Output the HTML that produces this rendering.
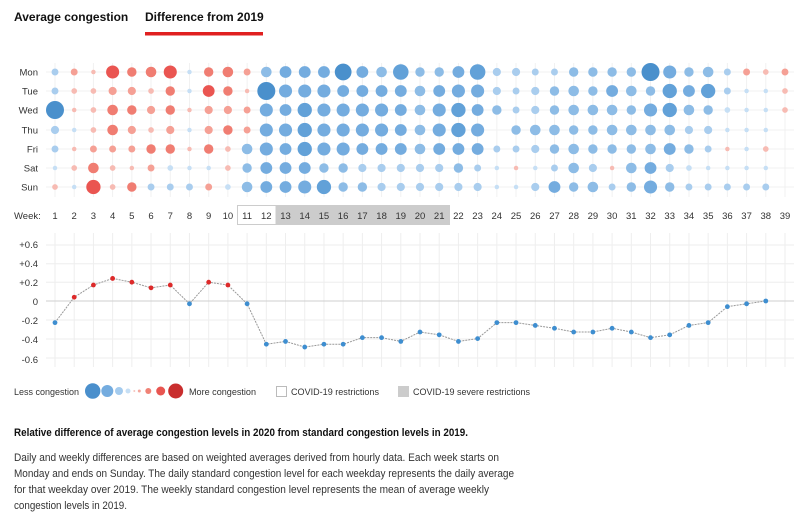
<!DOCTYPE html>
<html><head><meta charset="utf-8"><style>
html,body{margin:0;padding:0;background:#fff;}
svg{display:block;font-family:"Liberation Sans",sans-serif;}
</style></head><body>
<svg id="s" width="809" height="521" viewBox="0 0 809 521" xmlns="http://www.w3.org/2000/svg">
<rect width="809" height="521" fill="#fff"/>
<text x="14" y="21" font-size="12" font-weight="bold" fill="#111">Average congestion</text>
<text x="145" y="21" font-size="12" font-weight="bold" fill="#111">Difference from 2019</text>
<rect x="145" y="32" width="118" height="3.5" fill="#e02020"/>
<g id="grid1" stroke="#f1f1f1" stroke-width="1"></g>
<g font-size="9.5" fill="#333" text-anchor="end">
<text x="38" y="75.5">Mon</text><text x="38" y="94.5">Tue</text><text x="38" y="113.5">Wed</text><text x="38" y="133.5">Thu</text><text x="38" y="152.5">Fri</text><text x="38" y="171.5">Sat</text><text x="38" y="190.5">Sun</text>
</g>
<g id="bub"></g>
<rect x="237.5" y="205.5" width="38.5" height="19" fill="#fff" stroke="#ccc"/>
<rect x="276" y="205" width="174" height="20" fill="#cccccc"/>
<text x="14" y="219" font-size="9.5" fill="#333">Week:</text>
<g id="wk" font-size="9.5" fill="#333" text-anchor="middle">
<text x="55" y="219">1</text><text x="74.2" y="219">2</text><text x="93.4" y="219">3</text><text x="112.6" y="219">4</text><text x="131.8" y="219">5</text><text x="151" y="219">6</text><text x="170.3" y="219">7</text><text x="189.5" y="219">8</text><text x="208.7" y="219">9</text><text x="227.9" y="219">10</text><text x="247.1" y="219">11</text><text x="266.3" y="219">12</text><text x="285.5" y="219">13</text><text x="304.7" y="219">14</text><text x="323.9" y="219">15</text><text x="343.1" y="219">16</text><text x="362.4" y="219">17</text><text x="381.6" y="219">18</text><text x="400.8" y="219">19</text><text x="420" y="219">20</text><text x="439.2" y="219">21</text><text x="458.4" y="219">22</text><text x="477.6" y="219">23</text><text x="496.8" y="219">24</text><text x="516" y="219">25</text><text x="535.3" y="219">26</text><text x="554.5" y="219">27</text><text x="573.7" y="219">28</text><text x="592.9" y="219">29</text><text x="612.1" y="219">30</text><text x="631.3" y="219">31</text><text x="650.5" y="219">32</text><text x="669.7" y="219">33</text><text x="688.9" y="219">34</text><text x="708.2" y="219">35</text><text x="727.4" y="219">36</text><text x="746.6" y="219">37</text><text x="765.8" y="219">38</text><text x="785" y="219">39</text>
</g>
<g id="grid2" stroke="#eeeeee" stroke-width="1"></g>
<g font-size="9.5" fill="#333" text-anchor="end">
<text x="38" y="248">+0.6</text><text x="38" y="267">+0.4</text><text x="38" y="286">+0.2</text><text x="38" y="305">0</text><text x="38" y="324">-0.2</text><text x="38" y="343">-0.4</text><text x="38" y="363">-0.6</text>
</g>
<g id="line"></g>
<g font-size="9.5" fill="#333">
<text x="14" y="395" textLength="65" lengthAdjust="spacingAndGlyphs">Less congestion</text>
<circle cx="92.7" cy="391" r="7.7" fill="#4a8fcc"/>
<circle cx="107.3" cy="391" r="6" fill="#74acdf"/>
<circle cx="119" cy="391" r="4" fill="#a4cbee"/>
<circle cx="128" cy="391" r="2.5" fill="#c6dff5"/>
<circle cx="134.3" cy="391" r="1" fill="#f6c3bc"/>
<circle cx="139.3" cy="391" r="1.5" fill="#f4a89e"/>
<circle cx="148.3" cy="391" r="3" fill="#f08276"/>
<circle cx="160.7" cy="391" r="4.5" fill="#e85550"/>
<circle cx="175.7" cy="391" r="7.5" fill="#c92e2e"/>
<text x="189" y="395" textLength="67" lengthAdjust="spacingAndGlyphs">More congestion</text>
<rect x="276.5" y="386.5" width="10" height="10" fill="#fff" stroke="#bbb"/>
<text x="291" y="395" textLength="88" lengthAdjust="spacingAndGlyphs">COVID-19 restrictions</text>
<rect x="398" y="386" width="11" height="11" fill="#cccccc"/>
<text x="413" y="395" textLength="117" lengthAdjust="spacingAndGlyphs">COVID-19 severe restrictions</text>
</g>
<text x="14" y="436" font-size="11" font-weight="bold" fill="#111" textLength="454" lengthAdjust="spacingAndGlyphs">Relative difference of average congestion levels in 2020 from standard congestion levels in 2019.</text>
<g font-size="11" fill="#333">
<text x="14" y="461" textLength="485" lengthAdjust="spacingAndGlyphs">Daily and weekly differences are based on weighted averages derived from hourly data. Each week starts on</text>
<text x="14" y="477" textLength="500" lengthAdjust="spacingAndGlyphs">Monday and ends on Sunday. The daily standard congestion level for each weekday represents the daily average</text>
<text x="14" y="493" textLength="475" lengthAdjust="spacingAndGlyphs">for that weekday over 2019. The weekly standard congestion level represents the mean of average weekly</text>
<text x="14" y="509" textLength="113" lengthAdjust="spacingAndGlyphs">congestion levels in 2019.</text>
</g>
</svg>
<script>
(function(){
var NS="http://www.w3.org/2000/svg";
function el(p,t,a){var e=document.createElementNS(NS,t);for(var k in a)e.setAttribute(k,a[k]);p.appendChild(e);return e;}
var X=function(i){return 55+i*19.2105;};
var rowsY=[72,91,110,130,149,168,187];
var g1=document.getElementById('grid1');
for(var i=0;i<39;i++)el(g1,'line',{x1:X(i),x2:X(i),y1:63,y2:197});
rowsY.forEach(function(y){el(g1,'line',{x1:46,x2:794,y1:y,y2:y});});
var D=[
[-2,2,1,4.5,3,3.5,4.5,-1,3,3.5,2,-3.5, -4,-4,-4,-6,-4,-3.5,-5.5,-3,-3,-4,-5.5,-2.5,-2.5, -2,-2,-3,-3,-3,-3,-6.5,-4.5,-3,-3.5,-2,2,1.5,2],
[-2,1.5,1.5,2.5,2.5,1.5,3,-1,4,3,1,-6.5, -4.5,-4.5,-4.5,-4,-4,-4,-4,-3.5,-4,-4.5,-4.5,-2.5,-2, -2.5,-3,-3.5,-3,-4,-3.5,-3,-5,-4,-5,-2,-1,-1,1.5],
[-6.5,1,1.5,3.5,3,2.5,3,1,2.5,2.5,2,-4.5, -4,-5,-4.5,-4.5,-4.5,-4.5,-4,-3.5,-4.5,-5,-4,-3,-2, -2.5,-3,-3.5,-3.5,-3.5,-3,-4.5,-5,-3.5,-3,-1.5,-1,-1,1.5],
[-2.5,-1,1.5,3.5,2.5,1.5,2.5,-1,2.5,3,2,-4.5, -4.5,-5,-4.5,-4.5,-4.5,-4.5,-4,-3.5,-4.5,-5,-4.5,0,-3, -3.5,-3.5,-3,-3,-3.5,-3.5,-3.5,-3.5,-2.5,-2.5,-1,-1,-1,0],
[-2,1,2,2,2,3,3,1,3,1.5,-3.5,-4.5, -4,-5,-4.5,-4.5,-4,-4,-4,-3.5,-4,-4,-4,-2,-2, -2.5,-3,-3.5,-3,-3,-3,-3.5,-4,-3,-2,1,-1,1.5,0],
[-1,1.5,3.5,1.5,1,2,-1.5,-1,-1,1.5,-3,-4, -4,-4,-3,-3,-2.5,-2.5,-2.5,-2.5,-2.5,-3,-2,-1,1, -1,-2,-3.5,-2.5,1,-3.5,-4,-2.5,-1.5,-1,-1,-1,-1,0],
[1.5,-1,5,1.5,3,-2,-2,-2,2,-1.5,-3.5,-4, -4,-4.5,-5,-3,-3,-2.5,-2.5,-2.5,-2.5,-2.5,-2.5,-1,-1, -2.5,-4,-3,-3.5,-2,-3,-4.5,-3,-2,-2,-2,-2,-2,0]];
function col(v){var m=Math.abs(v);
 if(v<0){return m<=1.5?'#c6dff5':m<=2.5?'#a9cdee':m<=3.5?'#8dbce6':m<=4.5?'#74acdf':m<=5.5?'#62a1d8':'#4a90cc';}
 return m<=1.5?'#f7bbb3':m<=2.5?'#f5a095':m<=3.5?'#f07d72':'#ea5551';}
var gb=document.getElementById('bub');
D.forEach(function(r,ri){r.forEach(function(v,i){if(!v)return;
 el(gb,'circle',{cx:X(i),cy:rowsY[ri],r:(1+1.23*Math.abs(v)).toFixed(2),fill:col(v)});});});
var g2=document.getElementById('grid2');
for(var i=0;i<39;i++)el(g2,'line',{x1:X(i),x2:X(i),y1:233,y2:367});
[245,263.7,282.3,320,339,358].forEach(function(y){el(g2,'line',{x1:46,x2:794,y1:y,y2:y});});
el(g2,'line',{x1:46,x2:794,y1:301,y2:301,stroke:'#cfcfcf'});
var L=[-0.23,0.04,0.17,0.24,0.20,0.14,0.17,-0.03,0.20,0.17,-0.03,-0.46,-0.43,-0.49,-0.46,-0.46,-0.39,-0.39,-0.43,-0.33,-0.36,-0.43,-0.40,-0.23,-0.23,-0.26,-0.29,-0.33,-0.33,-0.29,-0.33,-0.39,-0.36,-0.26,-0.23,-0.06,-0.03,0.0];
var Y=function(v){return 301-v*94;};
var gl=document.getElementById('line');
el(gl,'polyline',{points:L.map(function(v,i){return X(i)+','+Y(v);}).join(' '),fill:'none',stroke:'#999','stroke-width':1,'stroke-dasharray':'2,1'});
L.forEach(function(v,i){el(gl,'circle',{cx:X(i),cy:Y(v),r:2.4,fill:v>0?'#dd2a2a':'#3e8ed0'});});
})();
</script>
</body></html>
